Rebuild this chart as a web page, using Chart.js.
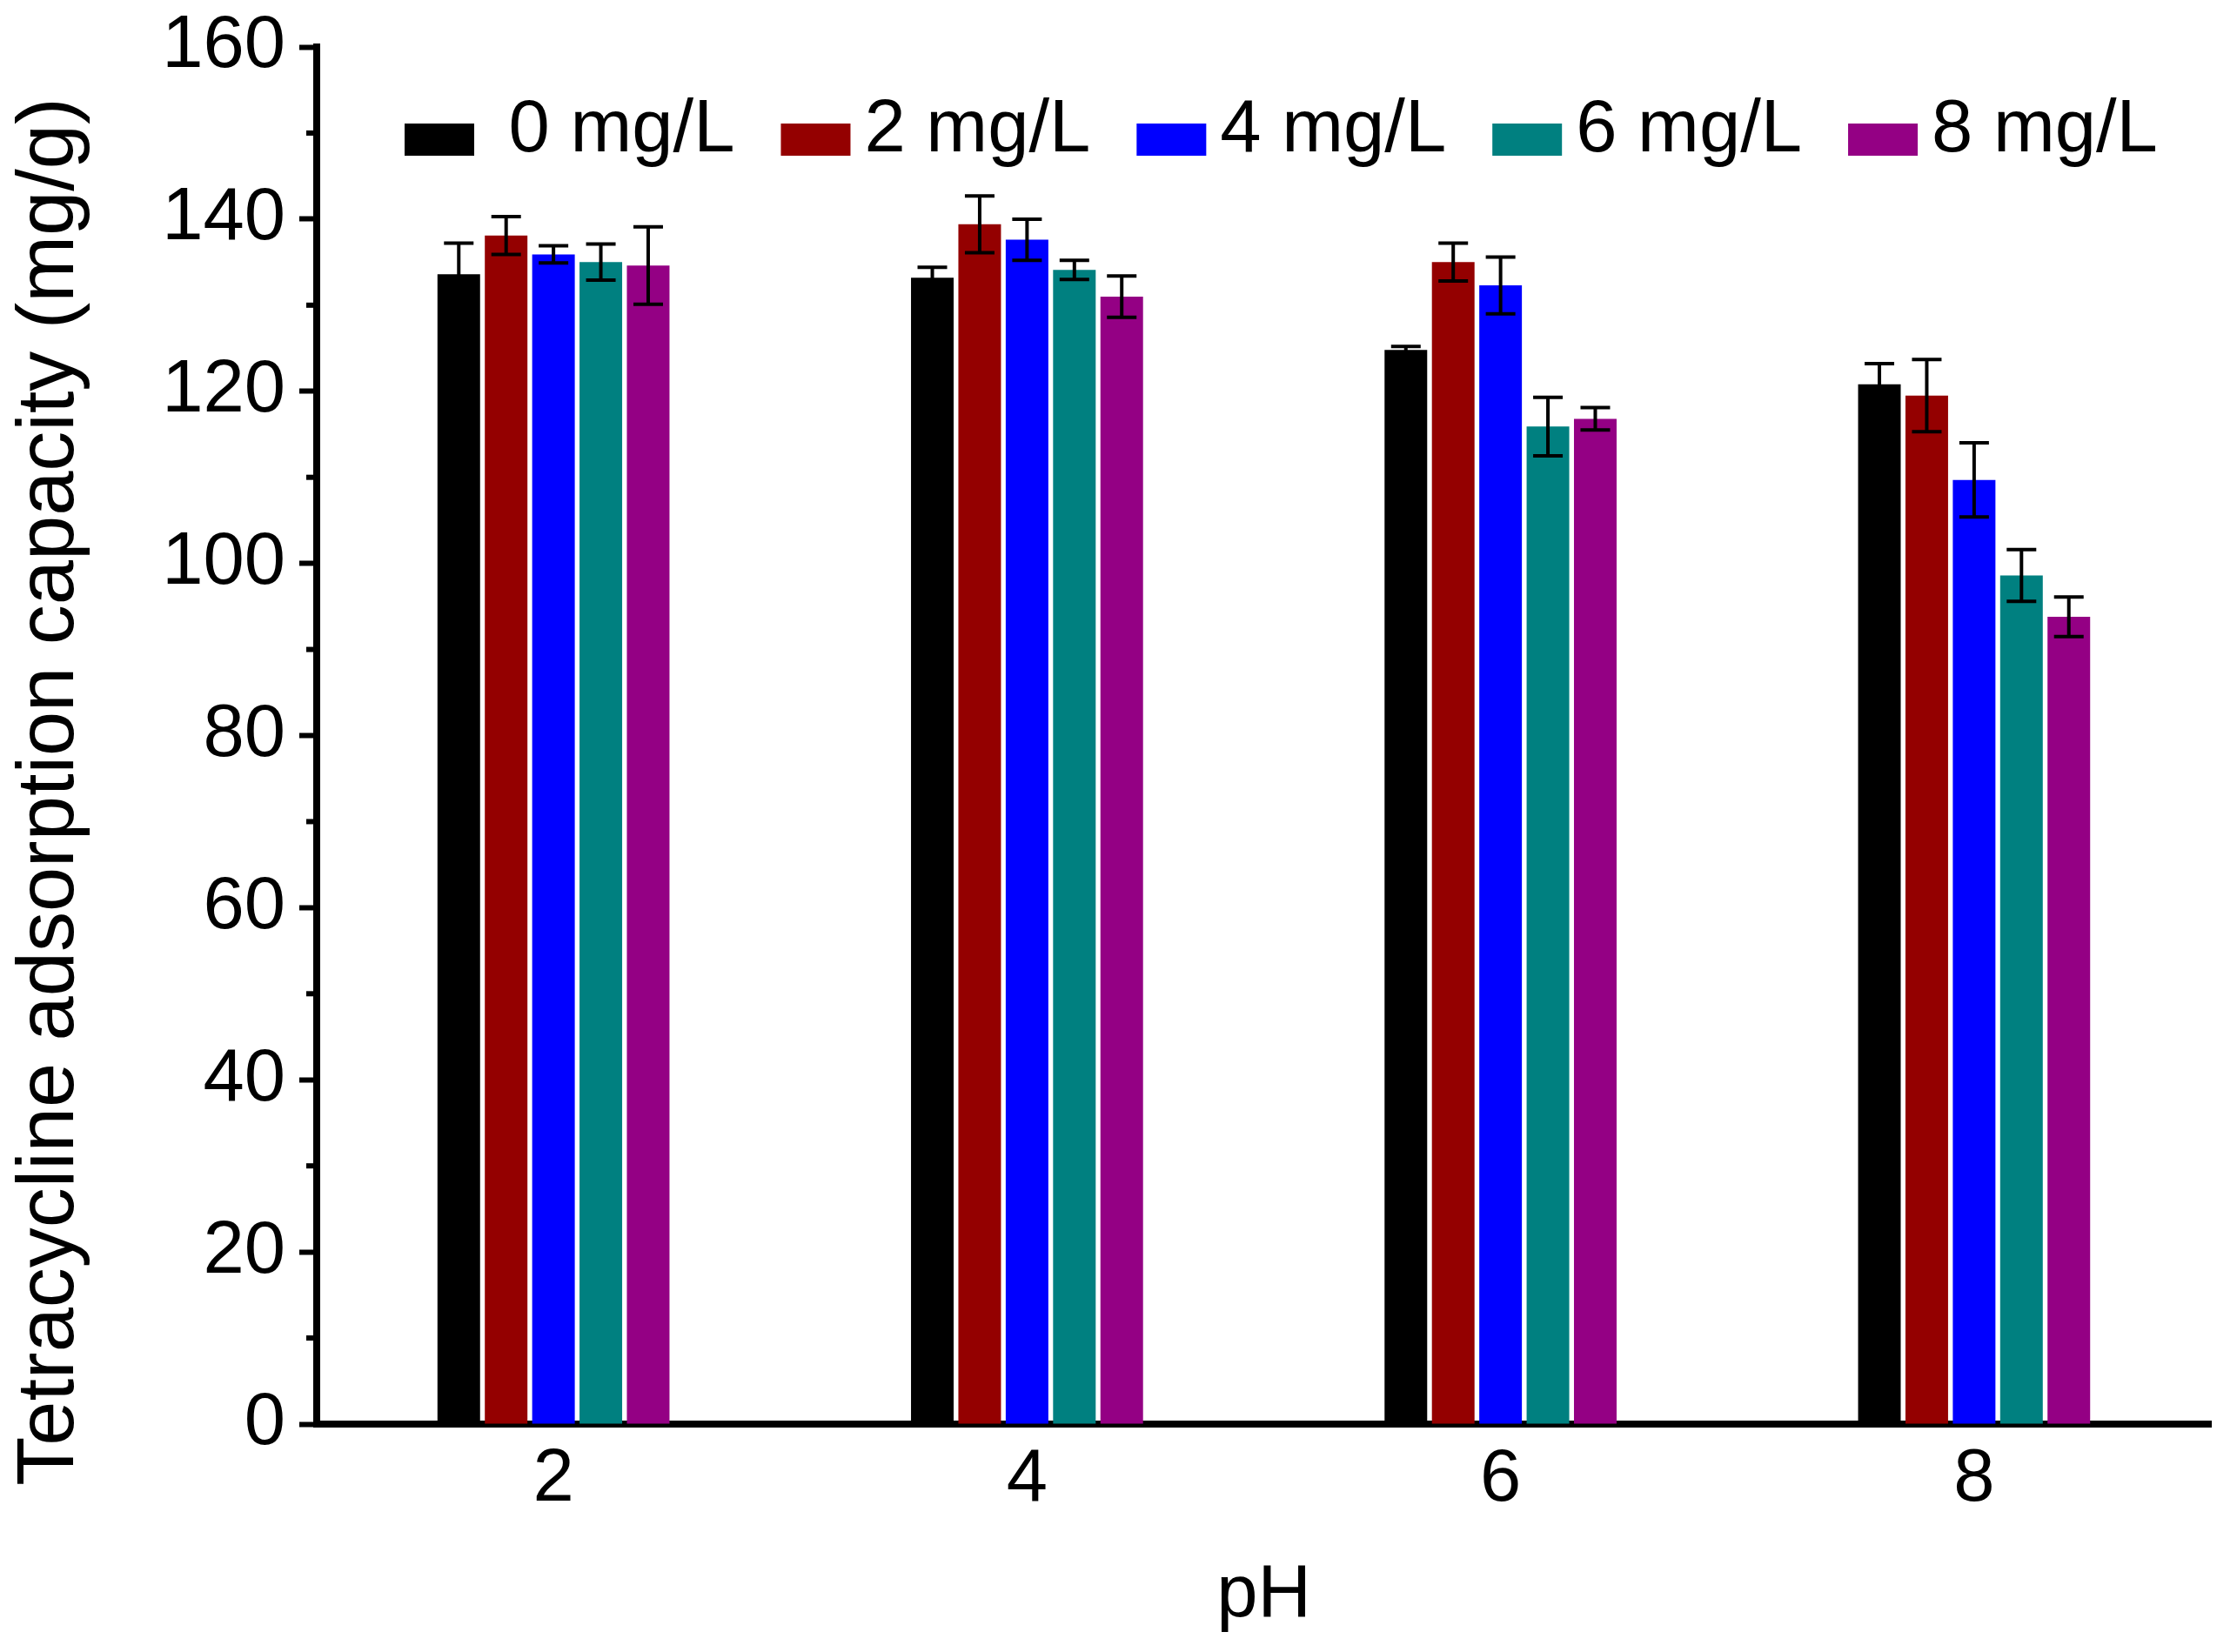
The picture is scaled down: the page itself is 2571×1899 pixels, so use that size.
<!DOCTYPE html>
<html>
<head>
<meta charset="utf-8">
<script src="https://cdn.jsdelivr.net/npm/chart.js@4.4.1/dist/chart.umd.min.js"></script>
<style>
  html, body { margin: 0; padding: 0; background: #fff; }
  canvas { display: block; }
</style>
</head>
<body>
<canvas id="myChart" width="2571" height="1899"></canvas>
<script>
'use strict';
// pH values on the x axis
let categories = ['2', '4', '6', '8'];
let seriesNames = [' 0 mg/L', '2 mg/L', '4 mg/L', '6 mg/L', '8 mg/L'];
let seriesColors = ['#000000', '#940000', '#0000ff', '#008080', '#940084'];

// adsorption capacity (mg/g) and error (sd)
let c0 = [133.6, 133.2, 124.8, 120.8];
let e0 = [3.6, 1.2, 0.4, 2.4];
let c2 = [138.1, 139.4, 135.0, 119.5];
let e2 = [2.2, 3.3, 2.2, 4.2];
let c4 = [135.9, 137.6, 132.3, 109.7];
let e4 = [1.0, 2.4, 3.3, 4.3];
let c6 = [135.0, 134.1, 115.9, 98.6];
let e6 = [2.1, 1.1, 3.4, 3.0];
let c8 = [134.6, 131.0, 116.8, 93.8];
let e8 = [4.5, 2.4, 1.3, 2.3];

let values = [c0, c2, c4, c6, c8];
let errors = [e0, e2, e4, e6, e8];

let yMin = 0;
let yMax = 160;
let yStep = 20;
let yMinorStep = 10;

let fontName = '"Liberation Sans", Arial, sans-serif';

let datasets = [];
for (let i = 0; i < values.length; i++) {
  datasets.push({
    label: seriesNames[i],
    data: values[i],
    errors: errors[i],
    backgroundColor: seriesColors[i],
    borderWidth: 0,
    categoryPercentage: 0.5,
    barPercentage: 0.9
  });
}

// error bars on top of every bar
let errorBars = {
  id: 'errorBars',
  afterDatasetsDraw(chart) {
    let ctx = chart.ctx;
    let y = chart.scales.y;
    ctx.save();
    ctx.strokeStyle = '#000';
    ctx.lineWidth = 4;
    chart.data.datasets.forEach((ds, i) => {
      let meta = chart.getDatasetMeta(i);
      meta.data.forEach((bar, j) => {
        let v = ds.data[j];
        let err = ds.errors[j];
        let top = y.getPixelForValue(v + err);
        let bot = y.getPixelForValue(v - err);
        let half = 17;
        ctx.beginPath();
        ctx.moveTo(bar.x, top);
        ctx.lineTo(bar.x, bot);
        ctx.moveTo(bar.x - half, top);
        ctx.lineTo(bar.x + half, top);
        ctx.moveTo(bar.x - half, bot);
        ctx.lineTo(bar.x + half, bot);
        ctx.stroke();
      });
    });
    ctx.restore();
  }
};

// short minor ticks between the labelled ones
let minorTicks = {
  id: 'minorTicks',
  afterDraw(chart) {
    let ctx = chart.ctx;
    let y = chart.scales.y;
    let x0 = chart.chartArea.left;
    ctx.save();
    ctx.strokeStyle = '#000';
    ctx.lineWidth = 6;
    for (let v = yMin + yMinorStep; v < yMax; v += yStep) {
      let py = y.getPixelForValue(v);
      ctx.beginPath();
      ctx.moveTo(x0 - 12, py);
      ctx.lineTo(x0, py);
      ctx.stroke();
    }
    ctx.restore();
  }
};

// legend row inside the plot, like the original
let innerLegend = {
  id: 'innerLegend',
  afterDraw(chart) {
    let ctx = chart.ctx;
    ctx.save();
    ctx.font = '85px ' + fontName;
    ctx.textBaseline = 'alphabetic';
    ctx.textAlign = 'left';
    let x = 465;
    chart.data.datasets.forEach(ds => {
      ctx.fillStyle = ds.backgroundColor;
      ctx.fillRect(x, 142, 80, 37);
      x += 80 + 16;
      ctx.fillStyle = '#000';
      ctx.fillText(ds.label, x, 174);
      x += ctx.measureText(ds.label).width + 53;
    });
    ctx.restore();
  }
};

// rotated y title
let yTitle = {
  id: 'yTitle',
  afterDraw(chart) {
    let ctx = chart.ctx;
    ctx.save();
    ctx.translate(59, 910);
    ctx.rotate(-Math.PI / 2);
    ctx.font = '92px ' + fontName;
    ctx.fillStyle = '#000';
    ctx.textAlign = 'center';
    ctx.textBaseline = 'middle';
    ctx.fillText('Tetracycline adsorption capacity (mg/g)', 0, 0);
    ctx.restore();
  }
};

let ctx = document.getElementById('myChart').getContext('2d');
let myChart = new Chart(ctx, {
  type: 'bar',
  data: {
    labels: categories,
    datasets: datasets
  },
  options: {
    responsive: false,
    devicePixelRatio: 1,
    animation: false,
    layout: {
      padding: { left: 0, right: 30, top: 54, bottom: 0 }
    },
    plugins: {
      legend: { display: false },
      tooltip: { enabled: false }
    },
    scales: {
      x: {
        offset: true,
        grid: { display: false, drawTicks: false },
        border: { display: true, color: '#000', width: 8 },
        ticks: {
          color: '#000',
          font: { family: fontName, size: 85 },
          padding: 14
        },
        title: {
          display: true,
          text: 'pH',
          color: '#000',
          font: { family: fontName, size: 85 },
          padding: { top: 0, bottom: 13 }
        },
        afterFit(scale) {
          scale.height = 262;
          scale.paddingLeft = 0;
          scale.paddingRight = 0;
        }
      },
      y: {
        min: yMin,
        max: yMax,
        ticks: {
          stepSize: yStep,
          color: '#000',
          font: { family: fontName, size: 85 },
          padding: 16
        },
        grid: {
          drawOnChartArea: false,
          drawTicks: true,
          tickLength: 20,
          tickWidth: 6,
          tickColor: '#000'
        },
        border: { display: true, color: '#000', width: 8 },
        afterFit(scale) {
          scale.width = 364;
          scale.paddingTop = 0;
          scale.paddingBottom = 0;
        }
      }
    }
  },
  plugins: [errorBars, minorTicks, innerLegend, yTitle]
});
</script>
</body>
</html>
